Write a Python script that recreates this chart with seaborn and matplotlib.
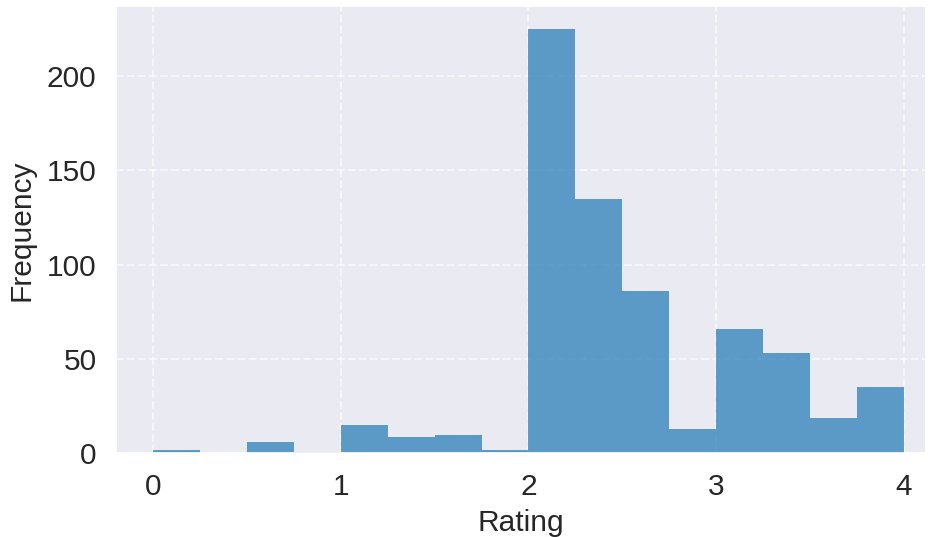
import numpy as np
import pandas as pd
import matplotlib
matplotlib.use("Agg")
import matplotlib.pyplot as plt
import seaborn as sns

# Histogram values (bin width 0.25, from 0 to 4)
bin_edges = [0, 0.25, 0.5, 0.75, 1, 1.25, 1.5, 1.75, 2, 2.25, 2.5, 2.75, 3, 3.25, 3.5, 3.75, 4]
counts = [2, 0.5, 6, 1, 15, 9, 10, 2, 225, 135, 86, 13, 66, 53, 19, 35]

centers = [(a + b) / 2 for a, b in zip(bin_edges[:-1], bin_edges[1:])]
df = pd.DataFrame({"Rating": centers, "count": counts})

sns.set_theme(style="darkgrid")
plt.rcParams['font.family'] = ['Liberation Sans', 'DejaVu Sans']

fig = plt.figure(figsize=(9.3, 5.37), dpi=100)
ax = fig.add_axes([0.1247, 0.1555, 0.871, 0.8333])

sns.histplot(data=df, x="Rating", weights="count", bins=bin_edges,
             color="tab:blue", alpha=0.7, linewidth=0, ax=ax)

ax.grid(True, linestyle="--", color="white", alpha=0.6, linewidth=1.5)
ax.set_xlim(-0.2, 4.12)
ax.set_ylim(0, 237)
ax.set_xticks([0, 1, 2, 3, 4])
ax.set_yticks([0, 50, 100, 150, 200])
ax.tick_params(labelsize=21.5, pad=8)
ax.set_xlabel("Rating", fontsize=21.5, labelpad=6)
ax.set_ylabel("Frequency", fontsize=21.5, labelpad=8)

fig.savefig("out.png", dpi=100)
